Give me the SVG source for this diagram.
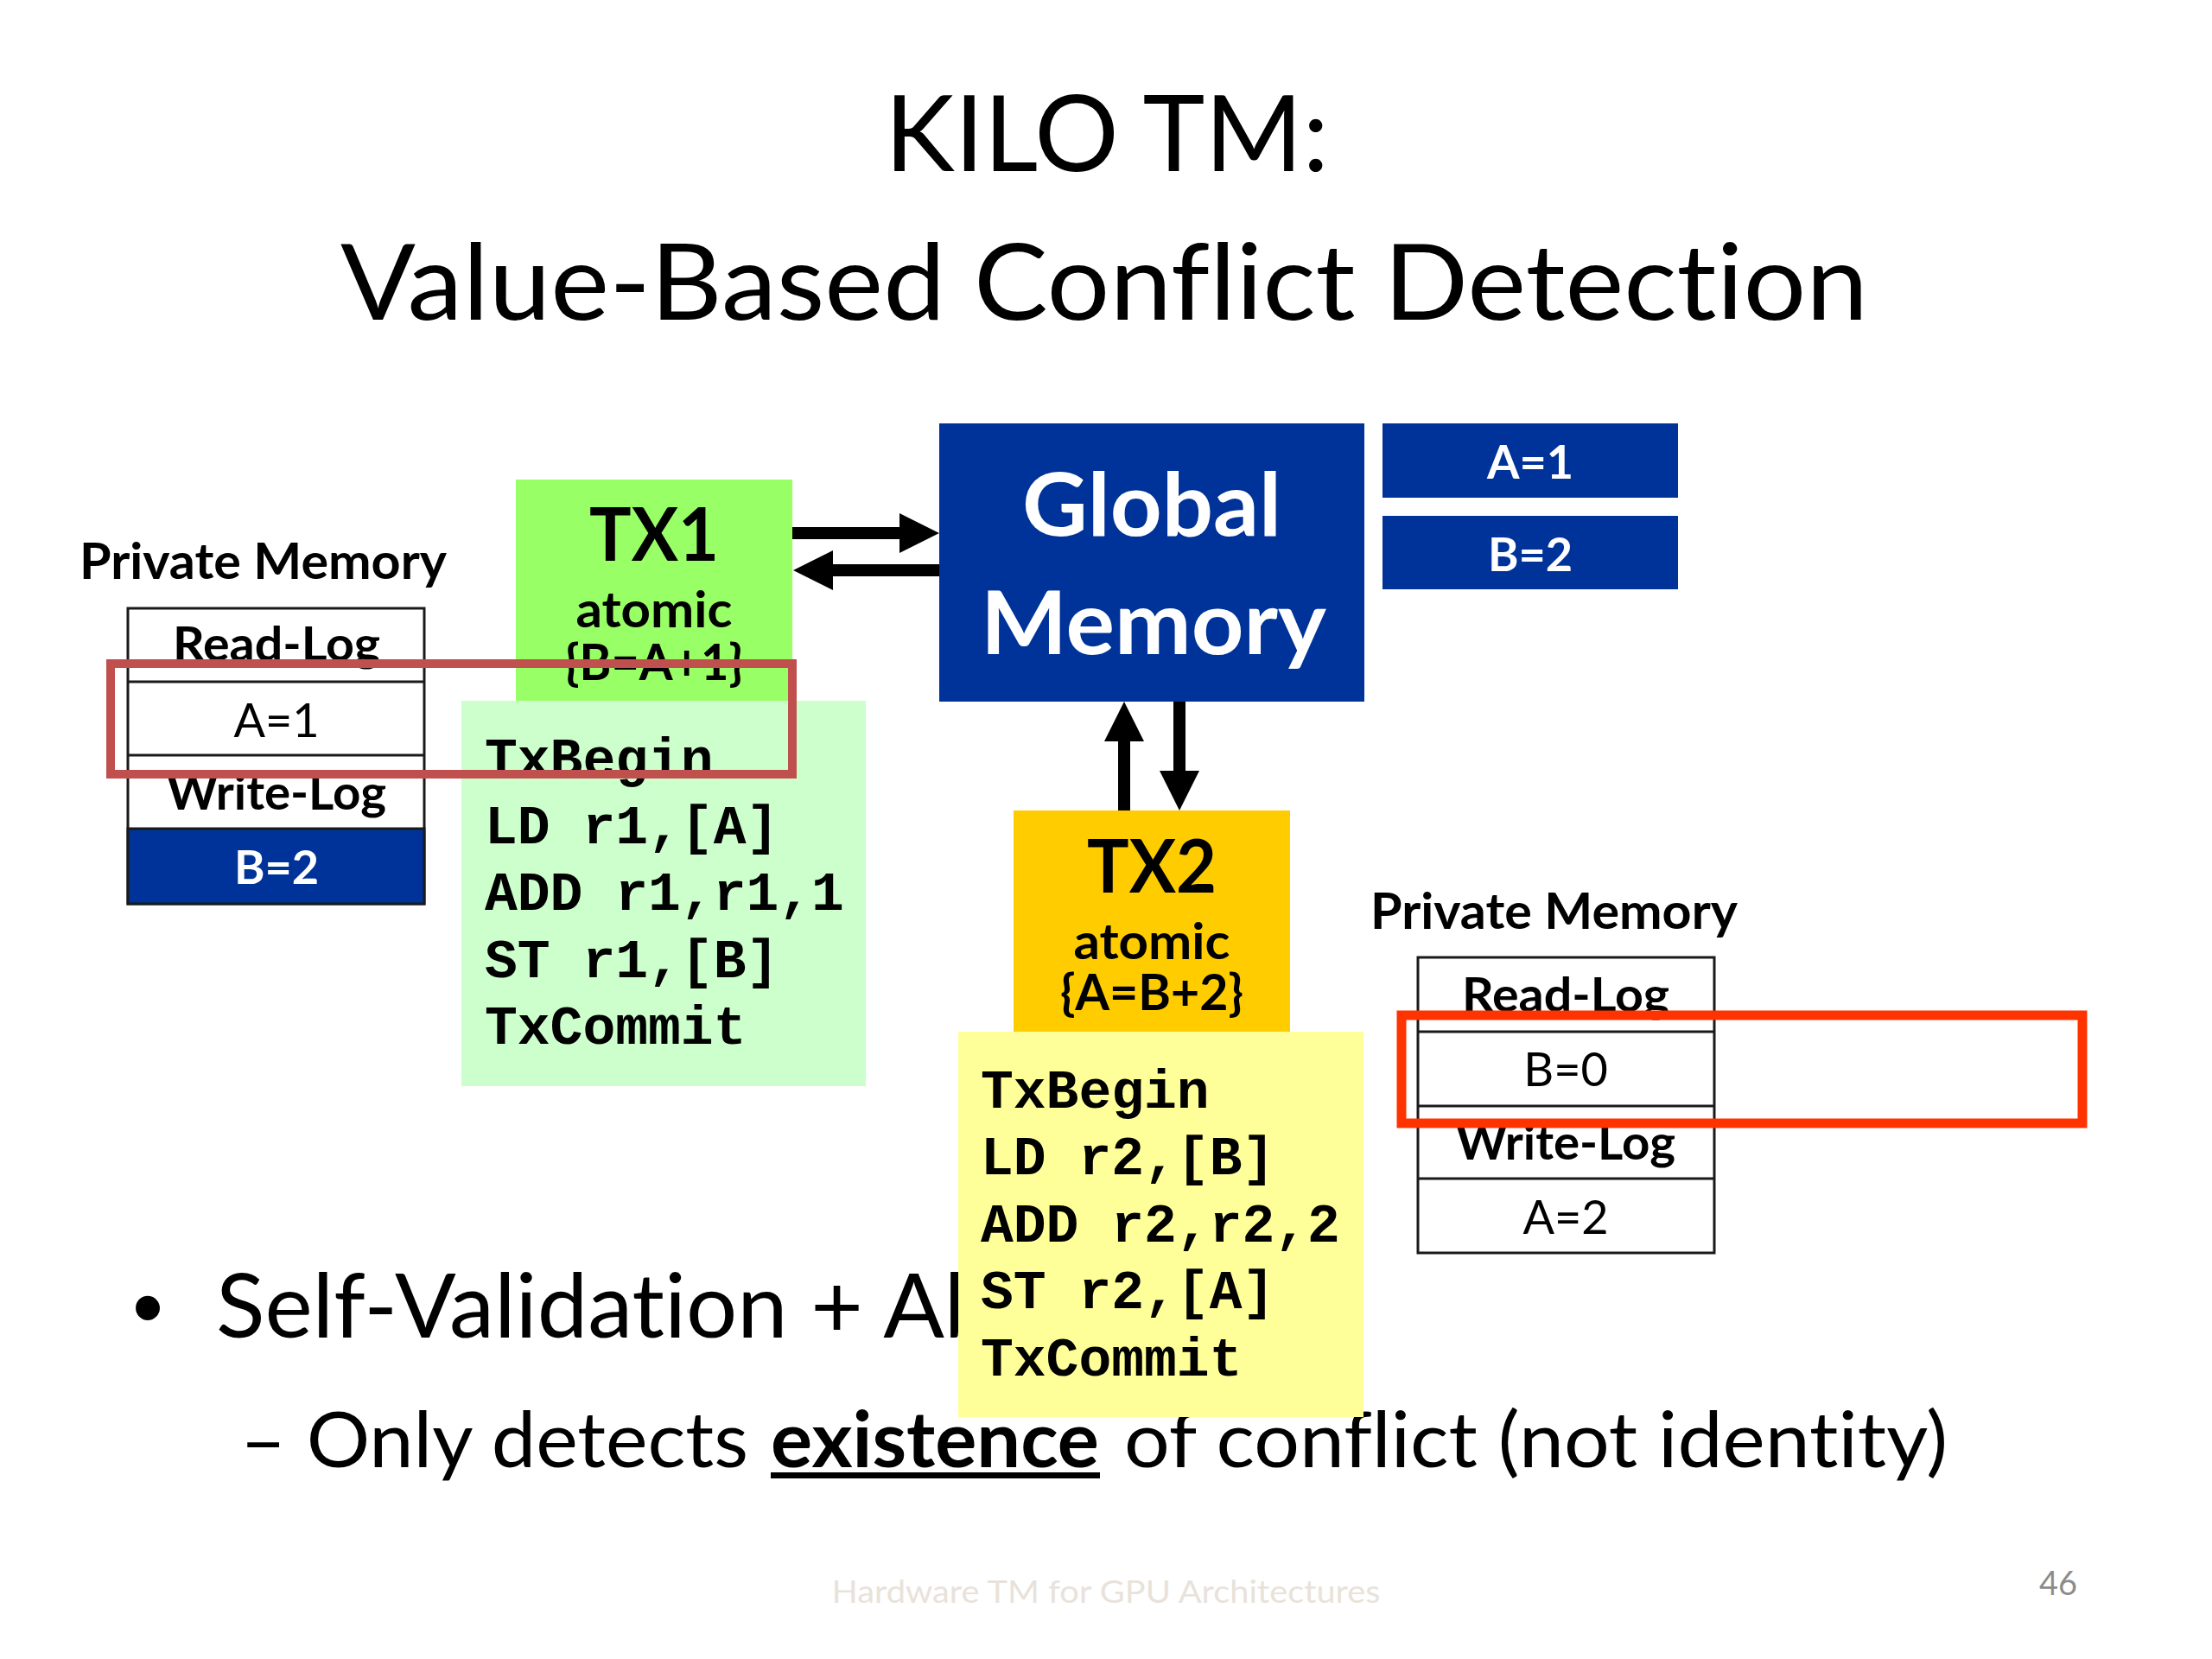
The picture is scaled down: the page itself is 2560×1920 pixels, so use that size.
<svg xmlns="http://www.w3.org/2000/svg" width="2560" height="1920" viewBox="0 0 2560 1920">
<style>
.s{font-family:Lato,"Liberation Sans",sans-serif;fill:#000;font-variant-ligatures:none;font-feature-settings:"liga" 0,"clig" 0}
.b{font-weight:700}
.c{text-anchor:middle}
.mono{font-family:"Liberation Mono","Courier New",monospace;font-weight:700;font-size:63px;fill:#000}
.cell{fill:#fff;stroke:#1a1a1a;stroke-width:3}
.line{stroke:#1a1a1a;stroke-width:3}
.conn{stroke:#000;stroke-width:14;fill:none}
</style>
<defs>
<marker id="ah" markerUnits="userSpaceOnUse" markerWidth="46" markerHeight="46" viewBox="0 0 46 46" refX="4" refY="23" orient="auto">
<path d="M0,0 L46,23 L0,46 Z" fill="#000"/>
</marker>
</defs>
<rect width="2560" height="1920" fill="#fff"/>

<g id="title">
<text class="s c" x="1281" y="198" font-size="123" textLength="514" lengthAdjust="spacingAndGlyphs">KILO TM:</text>
<text class="s c" x="1278" y="370" font-size="123" textLength="1768" lengthAdjust="spacingAndGlyphs">Value-Based Conflict Detection</text>
</g>

<g id="bullets">
<text x="153" y="1548" font-family="Liberation Sans,Arial,sans-serif" font-size="103">•</text>
<text class="s" x="250" y="1548" font-size="103" textLength="1036" lengthAdjust="spacingAndGlyphs">Self-Validation + Abort</text>
<text class="s" x="278" y="1698" font-size="90" textLength="588" lengthAdjust="spacingAndGlyphs">– Only detects</text>
<text class="s b" x="892" y="1698" font-size="90" textLength="380" lengthAdjust="spacingAndGlyphs">existence</text>
<rect x="892" y="1704" width="381" height="7" fill="#000"/>
<text class="s" x="1301" y="1698" font-size="90" textLength="953" lengthAdjust="spacingAndGlyphs">of conflict (not identity)</text>
</g>

<g id="footer">
<text class="s c" x="1280" y="1855" font-size="37" textLength="635" lengthAdjust="spacingAndGlyphs" style="fill:#e9e2da">Hardware TM for GPU Architectures</text>
<text class="s" x="2404" y="1846" font-size="38" text-anchor="end" style="fill:#8c8c8c">46</text>
</g>

<g id="private-memory-1">
<text class="s b" x="92" y="670" font-size="57" textLength="425" lengthAdjust="spacingAndGlyphs">Private Memory</text>
<rect class="cell" x="148" y="704" width="343" height="342"/>
<rect x="148" y="959" width="343" height="87" fill="#003399" stroke="#1a1a1a" stroke-width="3"/>
<line class="line" x1="148" y1="789" x2="491" y2="789"/>
<line class="line" x1="148" y1="874" x2="491" y2="874"/>
<text class="s b c" x="320" y="765" font-size="56" textLength="240" lengthAdjust="spacingAndGlyphs">Read-Log</text>
<text class="s c" x="320" y="853" font-size="54">A=1</text>
<text class="s b c" x="320" y="937" font-size="56" textLength="254" lengthAdjust="spacingAndGlyphs">Write-Log</text>
<text class="s b c" x="320" y="1023" font-size="54" style="fill:#fff">B=2</text>
</g>

<g id="tx1">
<rect x="597" y="555" width="320" height="256" fill="#99ff66"/>
<text class="s b c" x="757" y="649" font-size="86" textLength="150" lengthAdjust="spacingAndGlyphs">TX1</text>
<text class="s b c" x="757" y="726" font-size="57" textLength="181" lengthAdjust="spacingAndGlyphs">atomic</text>
<text class="s b c" x="757" y="787" font-size="57" textLength="207" lengthAdjust="spacingAndGlyphs">{B=A+1}</text>
</g>

<g id="tx1-code">
<rect x="534" y="811" width="468" height="446" fill="#ccffcc"/>
<text class="mono" x="561" y="898">TxBegin</text>
<text class="mono" x="561" y="976">LD r1,[A]</text>
<text class="mono" x="561" y="1053">ADD r1,r1,1</text>
<text class="mono" x="561" y="1131">ST r1,[B]</text>
<text class="mono" x="561" y="1208">TxCommit</text>
</g>

<g id="global-memory">
<rect x="1087" y="490" width="492" height="322" fill="#003399"/>
<text class="s b c" x="1333" y="620" font-size="102" textLength="300" lengthAdjust="spacingAndGlyphs" style="fill:#fff">Global</text>
<text class="s b c" x="1335" y="757" font-size="102" textLength="400" lengthAdjust="spacingAndGlyphs" style="fill:#fff">Memory</text>
</g>

<g id="global-a">
<rect x="1600" y="490" width="342" height="86" fill="#003399"/>
<text class="s b c" x="1771" y="554" font-size="54" style="fill:#fff">A=1</text>
</g>
<g id="global-b">
<rect x="1600" y="597" width="342" height="85" fill="#003399"/>
<text class="s b c" x="1771" y="661" font-size="54" style="fill:#fff">B=2</text>
</g>

<g id="tx2">
<rect x="1173" y="938" width="320" height="256" fill="#ffcc00"/>
<text class="s b c" x="1333" y="1033" font-size="86" textLength="150" lengthAdjust="spacingAndGlyphs">TX2</text>
<text class="s b c" x="1333" y="1110" font-size="57" textLength="181" lengthAdjust="spacingAndGlyphs">atomic</text>
<text class="s b c" x="1333" y="1169" font-size="57" textLength="212" lengthAdjust="spacingAndGlyphs">{A=B+2}</text>
</g>

<g id="tx2-code">
<rect x="1109" y="1194" width="469" height="446" fill="#ffff99"/>
<text class="mono" x="1135" y="1282">TxBegin</text>
<text class="mono" x="1135" y="1359">LD r2,[B]</text>
<text class="mono" x="1135" y="1437">ADD r2,r2,2</text>
<text class="mono" x="1135" y="1514">ST r2,[A]</text>
<text class="mono" x="1135" y="1592">TxCommit</text>
</g>

<g id="private-memory-2">
<text class="s b" x="1586" y="1075" font-size="57" textLength="425" lengthAdjust="spacingAndGlyphs">Private Memory</text>
<rect class="cell" x="1641" y="1108" width="343" height="342"/>
<line class="line" x1="1641" y1="1194" x2="1984" y2="1194"/>
<line class="line" x1="1641" y1="1280" x2="1984" y2="1280"/>
<line class="line" x1="1641" y1="1364" x2="1984" y2="1364"/>
<text class="s b c" x="1812" y="1171" font-size="56" textLength="240" lengthAdjust="spacingAndGlyphs">Read-Log</text>
<text class="s c" x="1812" y="1257" font-size="54">B=0</text>
<text class="s b c" x="1812" y="1342" font-size="56" textLength="254" lengthAdjust="spacingAndGlyphs">Write-Log</text>
<text class="s c" x="1812" y="1428" font-size="54">A=2</text>
</g>

<g id="connectors">
<line class="conn" x1="917" y1="617" x2="1045" y2="617" marker-end="url(#ah)"/>
<line class="conn" x1="1087" y1="660" x2="960" y2="660" marker-end="url(#ah)"/>
<line class="conn" x1="1301" y1="938" x2="1301" y2="854" marker-end="url(#ah)"/>
<line class="conn" x1="1365" y1="812" x2="1365" y2="896" marker-end="url(#ah)"/>
</g>

<g id="highlights">
<rect x="128" y="768" width="789" height="128" fill="none" stroke="#c0504d" stroke-width="10"/>
<rect x="1622" y="1175" width="788" height="125" fill="none" stroke="#ff3300" stroke-width="11"/>
</g>
</svg>
